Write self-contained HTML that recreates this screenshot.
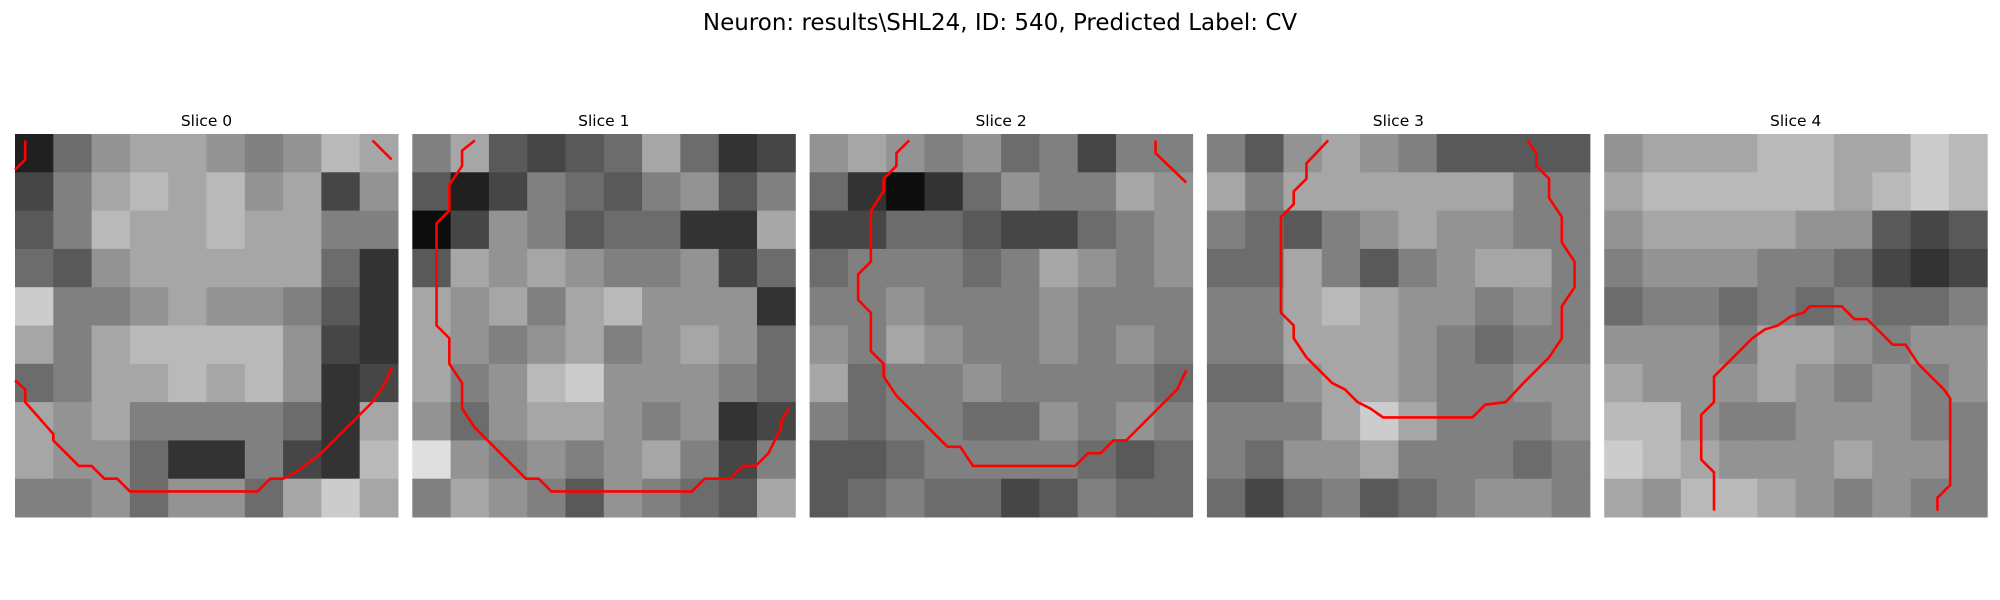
<!DOCTYPE html>
<html><head><meta charset="utf-8"><style>
html,body{margin:0;padding:0;background:#fff;}
svg{display:block;}
text{font-family:"DejaVu Sans","Liberation Sans",sans-serif;fill:#000;}
</style></head><body>
<svg id="chart" width="2000" height="600" viewBox="0 0 2000 600" xmlns="http://www.w3.org/2000/svg">
<text x="1000" y="30" font-size="23" text-anchor="middle">Neuron: results\SHL24, ID: 540, Predicted Label: CV</text>
<g id="panels"></g>
</svg>
<script>
const sliceTitles = ["Slice 0","Slice 1","Slice 2","Slice 3","Slice 4"];
const gridN = 10;
const slice0 = [
[.25,.45,.55,.6,.6,.55,.5,.55,.65,.6],
[.35,.5,.6,.65,.6,.65,.55,.6,.35,.55],
[.4,.5,.65,.6,.6,.65,.6,.6,.5,.5],
[.45,.4,.55,.6,.6,.6,.6,.6,.45,.3],
[.7,.5,.5,.55,.6,.55,.55,.5,.4,.3],
[.6,.5,.6,.65,.65,.65,.65,.55,.35,.3],
[.45,.5,.6,.6,.65,.6,.65,.55,.3,.35],
[.6,.55,.6,.5,.5,.5,.5,.45,.3,.6],
[.6,.55,.55,.45,.3,.3,.5,.35,.3,.65],
[.5,.5,.55,.45,.55,.55,.45,.6,.7,.6]];
const slice1 = [
[.5,.6,.4,.35,.4,.45,.6,.45,.3,.35],
[.4,.25,.35,.5,.45,.4,.5,.55,.4,.5],
[.2,.35,.55,.5,.4,.45,.45,.3,.3,.6],
[.4,.6,.55,.6,.55,.5,.5,.55,.35,.45],
[.6,.55,.6,.5,.6,.65,.55,.55,.55,.3],
[.6,.55,.5,.55,.6,.5,.55,.6,.55,.45],
[.6,.5,.55,.65,.7,.55,.55,.55,.5,.45],
[.55,.45,.55,.6,.6,.55,.5,.55,.3,.35],
[.75,.55,.5,.55,.5,.55,.6,.5,.35,.5],
[.5,.6,.55,.5,.4,.55,.5,.45,.4,.6]];
const slice2 = [
[.55,.6,.55,.5,.55,.45,.5,.35,.5,.5],
[.45,.3,.2,.3,.45,.55,.5,.5,.6,.55],
[.35,.35,.45,.45,.4,.35,.35,.45,.5,.55],
[.45,.5,.5,.5,.45,.5,.6,.55,.5,.55],
[.5,.5,.55,.5,.5,.5,.55,.5,.5,.5],
[.55,.5,.6,.55,.5,.5,.55,.5,.55,.5],
[.6,.45,.5,.5,.55,.5,.5,.5,.5,.45],
[.5,.45,.5,.5,.45,.45,.55,.5,.55,.5],
[.4,.4,.45,.5,.5,.5,.5,.45,.4,.45],
[.4,.45,.5,.45,.45,.35,.4,.5,.45,.45]];
const slice3 = [
[.5,.4,.55,.6,.55,.5,.4,.4,.4,.4],
[.6,.5,.6,.6,.6,.6,.6,.6,.5,.5],
[.5,.45,.4,.5,.55,.6,.55,.55,.5,.5],
[.45,.45,.6,.5,.4,.5,.55,.6,.6,.5],
[.5,.5,.6,.65,.6,.55,.55,.5,.55,.5],
[.5,.5,.6,.6,.6,.55,.5,.45,.5,.5],
[.45,.45,.55,.6,.6,.55,.5,.5,.55,.55],
[.5,.5,.5,.6,.7,.6,.5,.5,.5,.55],
[.5,.45,.55,.55,.6,.5,.5,.5,.45,.5],
[.45,.35,.45,.5,.4,.45,.5,.55,.55,.5]];
const slice4 = [
[.55,.6,.6,.6,.65,.65,.6,.6,.7,.65],
[.6,.65,.65,.65,.65,.65,.6,.65,.7,.65],
[.55,.6,.6,.6,.6,.55,.55,.4,.35,.4],
[.5,.55,.55,.55,.5,.5,.45,.35,.3,.35],
[.45,.5,.5,.45,.5,.45,.5,.45,.45,.5],
[.55,.55,.55,.5,.6,.6,.55,.5,.55,.55],
[.6,.55,.55,.55,.6,.55,.5,.55,.5,.55],
[.65,.65,.55,.5,.5,.55,.55,.55,.5,.5],
[.7,.65,.6,.55,.55,.55,.6,.55,.55,.5],
[.6,.55,.65,.65,.6,.55,.5,.55,.5,.5]];
const sliceData = [slice0,slice1,slice2,slice3,slice4];
const contours0 = [
[[0,19.3],[0.8,20],[0.8,21],[3,23.5],[3,24],[5,26],[6,26],[7,27],[8,27],[9,28],[19,28],[20,27],[21,27],[22,26.5],[24,25],[26,23],[28,21],[29,19.5],[29.5,18.3]],
[[0,2.8],[0.8,2],[0.8,0.5]],
[[28,0.5],[29.5,2]]];
const contours1 = [
[[4.9,0.5],[3.9,1.3],[3.9,2.5],[2.9,4],[2.9,6],[1.9,7],[1.9,15],[2.9,16],[2.9,18],[3.9,19.5],[3.9,21.5],[4.9,23],[8.9,27],[9.9,27],[10.9,28],[21.9,28],[22.9,27],[24.9,27],[25.9,26],[26.9,26],[27.9,25],[28.9,23],[28.9,22.5],[29.5,21.5]]];
const contours2 = [
[[7.8,0.5],[6.8,1.5],[6.8,2.5],[5.8,3.5],[5.8,4.5],[4.8,6],[4.8,10],[3.8,11],[3.8,13],[4.8,14],[4.8,17],[5.8,18],[5.8,19],[6.8,20.5],[10.8,24.5],[11.8,24.5],[12.8,26],[20.8,26],[21.8,25],[22.8,25],[23.8,24],[24.8,24],[25.8,23],[26.8,22],[27.8,21],[28.8,20],[29.5,18.5]],
[[27.1,0.5],[27.1,1.5],[29.5,3.8]]];
const contours3 = [
[[9.5,0.5],[7.8,2.3],[7.8,3.5],[6.8,4.5],[6.8,5.5],[5.8,6.5],[5.8,14],[6.8,15],[6.8,16],[7.8,17.5],[9.8,19.5],[10.8,20],[11.8,21],[12.8,21.5],[13.8,22.2],[20.8,22.2],[21.8,21.2],[23.4,21],[24.8,19.5],[26.8,17.5],[27.8,16],[27.8,13.5],[28.8,12],[28.8,10],[27.8,8.5],[27.8,6.5],[26.8,5],[26.8,3.5],[25.8,2.5],[25.8,1.5],[25.1,0.5]]];
const contours4 = [
[[8.6,29.5],[8.6,26.5],[7.6,25.5],[7.6,22],[8.6,21],[8.6,19],[9.6,18],[10.6,17],[11.6,16],[12.6,15.3],[13.6,15],[14.6,14.3],[15.6,14],[16.1,13.5],[18.6,13.5],[19.6,14.5],[20.6,14.5],[21.6,15.5],[22.6,16.5],[23.6,16.5],[24.6,18],[25.6,19],[26.6,20],[27.1,20.7],[27.1,27.5],[26.1,28.5],[26.1,29.5]]];
const sliceContours = [contours0,contours1,contours2,contours3,contours4];

const NS = "http://www.w3.org/2000/svg";
const panelW = 383, panelTop = 134, panelStep = 397.3, panelLeft = 15, imgCells = 30;
const contrast = 1.5;
const g = document.getElementById('panels');
function xScale(i, c){ return panelLeft + i*panelStep + c/imgCells*panelW; }
function yScale(r){ return panelTop + r/imgCells*panelW; }
function colorScale(v){ const s = 0.5 + (v-0.5)*contrast; return Math.round(Math.max(0,Math.min(1,s))*255); }
sliceData.forEach((grid, i) => {
  const pg = document.createElementNS(NS,'g');
  
  
  g.appendChild(pg);
  const t = document.createElementNS(NS,'text');
  
  
  t.setAttribute('x', xScale(i, 15));
  t.setAttribute('y', 126);
  t.setAttribute('font-size', '15.5');
  t.setAttribute('text-anchor', 'middle');
  t.textContent = sliceTitles[i];
  pg.appendChild(t);
  const cs = imgCells/gridN;
  grid.forEach((row, r) => row.forEach((v, c) => {
    const rect = document.createElementNS(NS,'rect');
    
    
    const x0 = xScale(i, c*cs), x1 = xScale(i, (c+1)*cs);
    const y0 = yScale(r*cs), y1 = yScale((r+1)*cs);
    rect.setAttribute('x', x0); rect.setAttribute('y', y0);
    rect.setAttribute('width', x1-x0+0.5); rect.setAttribute('height', y1-y0+0.5);
    const gv = colorScale(v);
    rect.setAttribute('fill', `rgb(${gv},${gv},${gv})`);
    pg.appendChild(rect);
  }));
  sliceContours[i].forEach((pts, k) => {
    const pl = document.createElementNS(NS,'polyline');
    
    
    pl.setAttribute('points', pts.map(p => xScale(i,p[0]) + ',' + yScale(p[1])).join(' '));
    pl.setAttribute('fill', 'none');
    pl.setAttribute('stroke', '#ff0000');
    pl.setAttribute('stroke-width', '2.6');
    pg.appendChild(pl);
  });
});
</script>
</body></html>
